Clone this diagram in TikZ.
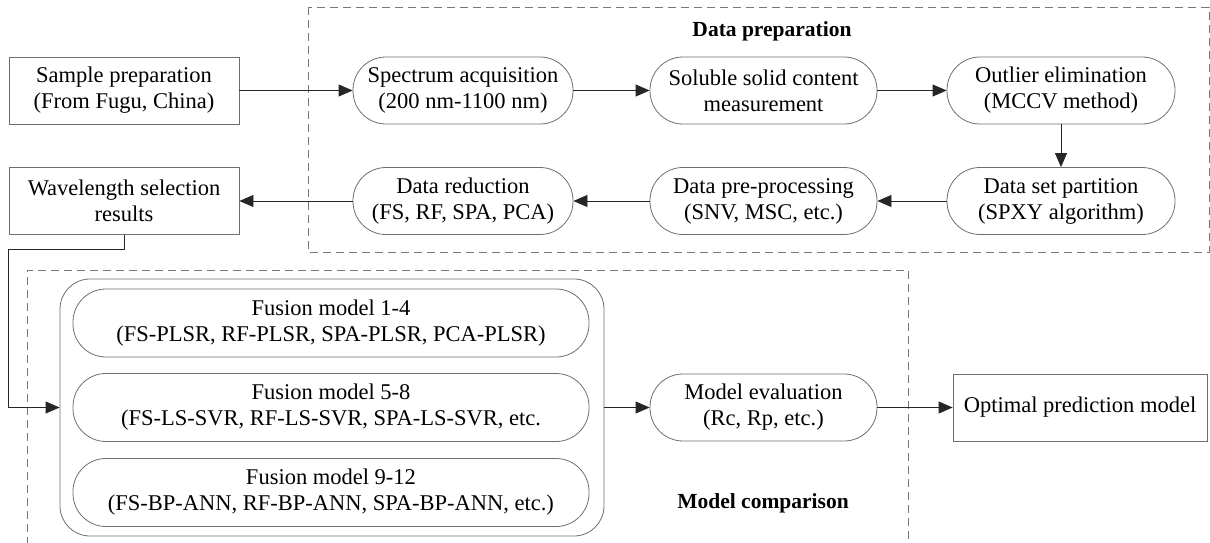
\documentclass[tikz,border=0pt]{standalone}
\usepackage{fontspec}
\setmainfont{Liberation Serif}
\usetikzlibrary{arrows.meta}
\definecolor{linegray}{RGB}{110,110,110}
\definecolor{dashgray}{RGB}{120,120,120}
\begin{document}
\begin{tikzpicture}[x=1pt,y=-1pt,
  box/.style={draw=linegray, line width=0.8pt, minimum height=67pt, inner sep=0pt, align=center, font=\fontsize{22.5}{26}\selectfont},
  pill/.style={box, rounded corners=33pt},
  conn/.style={draw=black!85, line width=0.8pt, -{Triangle[length=14pt,width=12pt]}},
  region/.style={draw=dashgray, line width=0.8pt, dash pattern=on 8pt off 5pt},
  title/.style={font=\fontsize{21.5}{24}\selectfont\bfseries}]
\useasboundingbox (0,0) rectangle (1210,543);
% dashed regions
\draw[region] (308,7) rectangle (1209,252);
\draw[region] (27,545) -- (27,270) -- (908,270) -- (908,545);
\node[title] (tprep) at (772,31) {Data preparation};
\node[title] (tcomp) at (763,503) {Model comparison};
% row 1
\node[box, minimum width=230pt] (sample) at (124,90.5) {Sample preparation\\(From Fugu, China)};
\node[pill, minimum width=220pt] (spec) at (463,90.5) {Spectrum acquisition\\(200 nm-1100 nm)};
\node[pill, minimum width=227pt] (sol) at (763.5,90.5) {Soluble solid content\\measurement};
\node[pill, minimum width=228pt] (out) at (1061,90.5) {Outlier elimination\\(MCCV method)};
% row 2
\node[box, minimum width=230pt] (wave) at (124,201) {Wavelength selection\\results};
\node[pill, minimum width=220pt] (red) at (463,201) {Data reduction\\(FS, RF, SPA, PCA)};
\node[pill, minimum width=227pt] (pre) at (763.5,201) {Data pre-processing\\(SNV, MSC, etc.)};
\node[pill, minimum width=228pt] (part) at (1061,201) {Data set partition\\(SPXY algorithm)};
% models
\node[draw=linegray, line width=0.8pt, rounded corners=30pt, minimum width=544pt, minimum height=257pt, inner sep=0pt] (cont) at (332,407.5) {};
\node[pill, minimum width=516pt, minimum height=68pt] (f1) at (331,323) {Fusion model 1-4\\(FS-PLSR, RF-PLSR, SPA-PLSR, PCA-PLSR)};
\node[pill, minimum width=516pt, minimum height=68pt] (f2) at (331,407.5) {Fusion model 5-8\\(FS-LS-SVR, RF-LS-SVR, SPA-LS-SVR, etc.};
\node[pill, minimum width=516pt, minimum height=68pt] (f3) at (331,492.5) {Fusion model 9-12\\(FS-BP-ANN, RF-BP-ANN, SPA-BP-ANN, etc.)};
\node[pill, minimum width=227pt] (eval) at (763.5,407.5) {Model evaluation\\(Rc, Rp, etc.)};
\node[box, minimum width=254pt] (opt) at (1080,407.5) {Optimal prediction model};
% connectors
\draw[conn] (sample.east) -- (spec.west);
\draw[conn] (spec.east) -- (sol.west);
\draw[conn] (sol.east) -- (out.west);
\draw[conn] (out.south) -- (part.north);
\draw[conn] (part.west) -- (pre.east);
\draw[conn] (pre.west) -- (red.east);
\draw[conn] (red.west) -- (wave.east);
\coordinate (c1) at (124,249);
\coordinate (c2) at (8,249);
\coordinate (c3) at (8,407.5);
\draw[conn] (wave.south) -- (c1) -- (c2) -- (c3) -- (cont.west);
\draw[conn] (cont.east) -- (eval.west);
\draw[conn] (eval.east) -- (opt.west);
\end{tikzpicture}
\end{document}
